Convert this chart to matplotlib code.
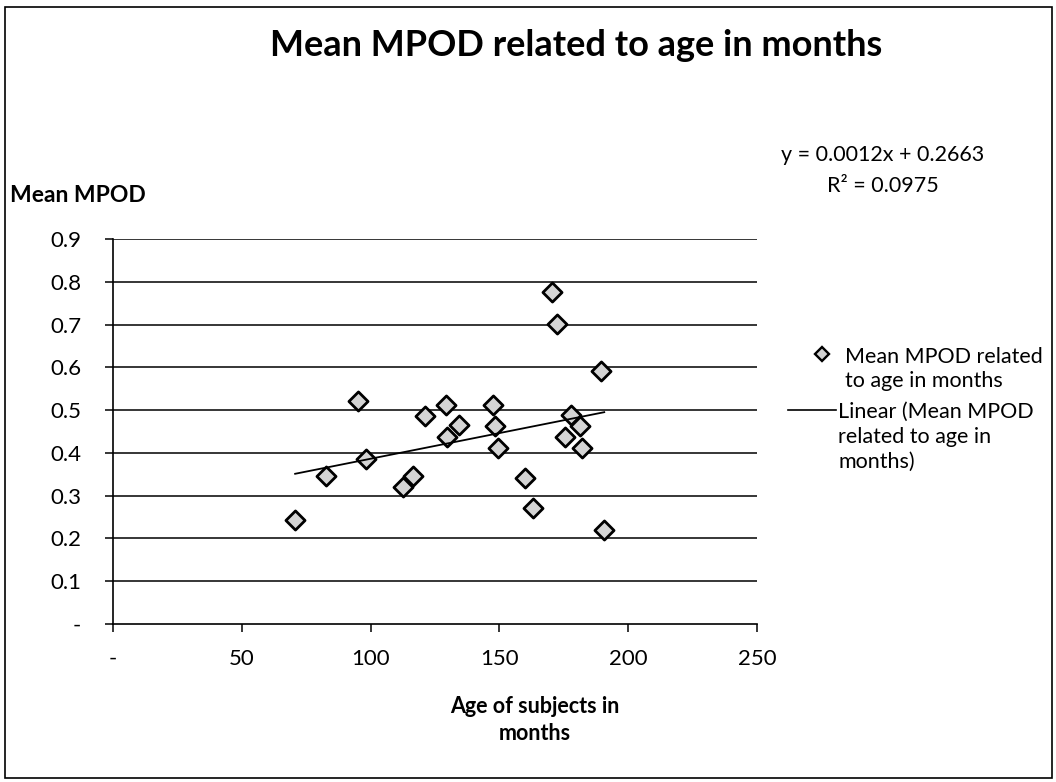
import matplotlib
matplotlib.use('Agg')
import matplotlib.pyplot as plt
from matplotlib.lines import Line2D
from matplotlib.patches import Rectangle

plt.rcParams['font.family'] = ['Lato', 'DejaVu Sans']

# subject age (months) vs mean MPOD
ages = [70.7, 82.6, 95.3, 98.2, 112.6, 116.5, 121.2, 129.1, 129.6, 134.3,
        147.5, 148.2, 149.5, 159.8, 162.9, 170.4, 172.3, 175.3, 177.8, 181.2,
        182.0, 189.4, 190.7]
mpod = [0.243, 0.345, 0.522, 0.385, 0.320, 0.345, 0.487, 0.512, 0.438, 0.465,
        0.512, 0.462, 0.411, 0.341, 0.271, 0.777, 0.702, 0.438, 0.489, 0.464,
        0.411, 0.592, 0.220]

# linear trendline as reported
slope = 0.0012
intercept = 0.2663
r_squared = 0.0975

x_ticks = [0, 50, 100, 150, 200, 250]
x_labels = ['-', '50', '100', '150', '200', '250']
y_ticks = [0, 0.1, 0.2, 0.3, 0.4, 0.5, 0.6, 0.7, 0.8, 0.9]
y_labels = ['-', '0.1', '0.2', '0.3', '0.4', '0.5', '0.6', '0.7', '0.8', '0.9']

W, H = 1056, 782
FS = 15.5
fig = plt.figure(figsize=(W / 100, H / 100), dpi=100, facecolor='white')


def fx(px):
    return px / W


def fy(py):
    return 1 - py / H


ax = fig.add_axes([fx(113), fy(624), fx(757) - fx(113), fy(239) - fy(624)])

# gridlines drawn as horizontal rules, Excel style
for yv in y_ticks[1:]:
    ax.axhline(yv, color='black', lw=1.1, zorder=1)

ax.scatter(ages, mpod, marker='D', s=95, facecolor='#d4d4d4',
           edgecolor='black', linewidth=2.0, zorder=3)

x0, x1 = min(ages), max(ages)
ax.plot([x0, x1], [slope * x0 + intercept, slope * x1 + intercept],
        color='black', lw=1.3, zorder=4)

ax.set_xlim(0, 250)
ax.set_ylim(0, 0.9)
ax.set_xticks(x_ticks)
ax.set_xticklabels(x_labels, fontsize=16)
ax.set_yticks(y_ticks)
ax.set_yticklabels(y_labels, fontsize=16)
ax.tick_params(axis='x', direction='out', length=6, width=1.1, pad=12)
ax.tick_params(axis='y', direction='out', length=6, width=1.1, pad=17)
for side in ['top', 'right']:
    ax.spines[side].set_visible(False)
for side in ['left', 'bottom']:
    ax.spines[side].set_linewidth(1.2)
ax.set_facecolor('white')

# chart frame
fig.add_artist(Rectangle((fx(5), fy(778)), fx(1052) - fx(5), fy(7) - fy(778),
                         transform=fig.transFigure, fill=False,
                         edgecolor='black', lw=1.2))

fig.text(fx(576), fy(46), 'Mean MPOD related to age in months',
         ha='center', va='center', fontsize=26, fontweight='bold')
fig.text(fx(10), fy(196), 'Mean MPOD', ha='left', va='center',
         fontsize=16.5, fontweight='bold')
fig.text(fx(535), fy(720), 'Age of subjects in\nmonths', ha='center',
         va='center', fontsize=FS, fontweight='bold', linespacing=1.4)

fig.text(fx(883), fy(155), f'y = {slope:.4f}x + {intercept:.4f}',
         ha='center', va='center', fontsize=FS)
fig.text(fx(883), fy(186), f'R\u00b2 = {r_squared:.4f}',
         ha='center', va='center', fontsize=FS)

# legend entries
fig.add_artist(Line2D([fx(822)], [fy(354)], marker='D', markersize=7.5,
                      markerfacecolor='#d4d4d4', markeredgecolor='black',
                      markeredgewidth=1.7, transform=fig.transFigure))
fig.text(fx(845), fy(369), 'Mean MPOD related\nto age in months',
         ha='left', va='center', fontsize=FS, linespacing=1.3)
fig.add_artist(Line2D([fx(788), fx(836)], [fy(410), fy(410)], color='black',
                      lw=1.2, transform=fig.transFigure))
fig.text(fx(838), fy(437), 'Linear (Mean MPOD\nrelated to age in\nmonths)',
         ha='left', va='center', fontsize=FS, linespacing=1.3)

fig.savefig('out.png', dpi=100, facecolor='white')
